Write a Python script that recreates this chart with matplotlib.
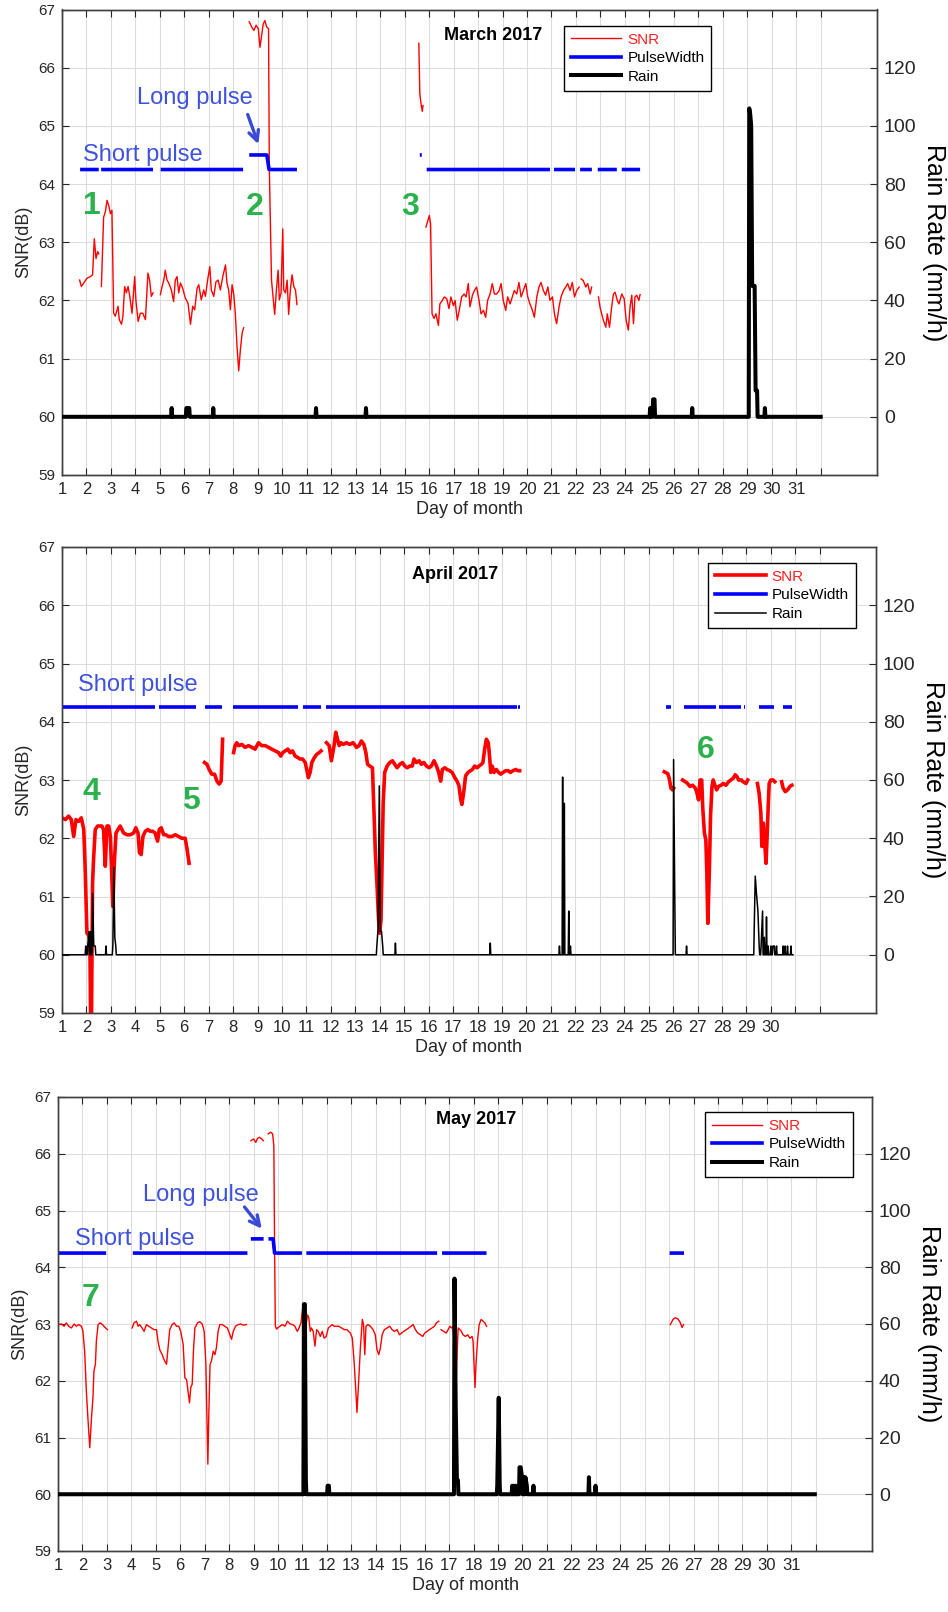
import numpy as np
import matplotlib.pyplot as plt
from matplotlib.lines import Line2D

plt.rcParams['font.family'] = ['Liberation Sans', 'DejaVu Sans']

GAP = (np.nan, np.nan)

# ---------------- March 2017 ----------------
snr_mar = [
    (1.72, 62.35), (1.79, 62.24), (1.89, 62.3), (2.02, 62.38), (2.16, 62.41), (2.25, 62.44),
    (2.32, 63.06), (2.39, 62.72), (2.46, 62.84), (2.5, 62.8), GAP,
    (2.61, 62.24), (2.7, 63.43), (2.77, 63.52), (2.84, 63.72), (2.91, 63.63), (2.98, 63.49),
    (3.04, 63.55), (3.11, 61.78), (3.18, 61.73), (3.29, 61.9), (3.34, 61.67), (3.43, 61.59),
    (3.49, 61.73), (3.56, 62.24), (3.63, 62.13), (3.7, 62.24), (3.77, 62.07), (3.86, 61.78),
    (3.97, 62.41), (4.02, 62.0), (4.11, 61.64), (4.2, 61.78), (4.3, 61.78), (4.41, 61.67),
    (4.51, 62.47), (4.58, 62.35), (4.65, 62.07), (4.72, 62.13), GAP,
    (5.02, 62.1), (5.09, 62.24), (5.16, 62.35), (5.22, 62.52), (5.29, 62.35), (5.36, 62.3),
    (5.47, 62.18), (5.56, 61.98), (5.63, 62.35), (5.7, 62.41), (5.77, 62.13), (5.84, 62.3),
    (5.93, 62.21), (6.04, 62.04), (6.15, 61.95), (6.25, 61.59), (6.34, 61.9), (6.42, 61.84),
    (6.52, 62.21), (6.59, 62.27), (6.69, 62.01), (6.79, 62.18), (6.86, 62.07), (6.95, 62.35),
    (7.04, 62.58), (7.1, 62.18), (7.2, 62.07), (7.29, 62.32), (7.38, 62.35), (7.47, 62.18),
    (7.57, 62.41), (7.68, 62.61), (7.74, 62.3), (7.81, 62.18), (7.88, 61.84), (7.95, 62.27),
    (8.02, 62.1), (8.08, 61.78), (8.15, 61.22), (8.22, 60.79), (8.29, 61.16), (8.36, 61.44),
    (8.42, 61.53), GAP,
    (8.65, 66.79), (8.75, 66.7), (8.84, 66.64), (8.93, 66.73), (9.02, 66.67), (9.09, 66.35),
    (9.16, 66.57), (9.22, 66.75), (9.29, 66.81), (9.36, 66.7), (9.44, 66.67), (9.47, 64.3),
    (9.52, 63.16), (9.56, 62.35), (9.61, 62.13), (9.69, 61.76), (9.76, 62.18), (9.83, 62.52),
    (9.88, 62.01), (9.95, 62.13), (10.02, 63.23), (10.06, 62.18), (10.13, 62.13), (10.2, 62.35),
    (10.26, 61.76), (10.33, 62.18), (10.4, 62.44), (10.47, 62.24), (10.54, 62.18), (10.6, 61.93), GAP,
    (15.58, 66.42), (15.6, 66.0), (15.62, 65.55), (15.65, 65.45), (15.68, 65.35), (15.72, 65.25),
    (15.75, 65.35), GAP,
    (15.87, 63.26), (16.01, 63.46), (16.06, 63.31), (16.12, 61.77), (16.2, 61.69), (16.28, 61.77),
    (16.38, 61.57), (16.44, 61.94), (16.54, 62.0), (16.62, 62.06), (16.72, 62.03), (16.81, 61.86),
    (16.89, 62.06), (16.99, 61.91), (17.06, 62.0), (17.15, 61.66), (17.23, 61.83), (17.33, 62.06),
    (17.43, 62.11), (17.51, 62.06), (17.6, 62.29), (17.67, 61.89), (17.77, 62.09), (17.85, 62.17),
    (17.94, 62.23), (18.04, 62.0), (18.12, 61.77), (18.22, 61.83), (18.31, 61.71), (18.39, 62.0),
    (18.49, 62.11), (18.58, 62.29), (18.67, 62.11), (18.76, 62.11), (18.86, 62.17), (18.94, 62.29),
    (19.03, 62.0), (19.13, 61.83), (19.21, 62.06), (19.31, 61.94), (19.4, 62.06), (19.48, 62.17),
    (19.58, 62.11), (19.67, 62.31), (19.76, 62.06), (19.85, 62.17), (19.95, 62.29), (20.03, 62.06),
    (20.12, 61.94), (20.22, 61.83), (20.3, 61.71), (20.4, 62.06), (20.49, 62.23), (20.57, 62.31),
    (20.67, 62.17), (20.76, 62.09), (20.85, 62.23), (20.94, 62.0), (21.04, 62.06), (21.12, 61.77),
    (21.21, 61.6), (21.31, 61.89), (21.39, 62.06), (21.49, 62.17), (21.58, 62.23), (21.66, 62.29),
    (21.76, 62.17), (21.85, 62.31), (21.94, 62.06), (22.03, 62.17), (22.13, 62.23), GAP,
    (22.21, 62.37), (22.3, 62.34), (22.4, 62.23), (22.48, 62.29), (22.58, 62.11), (22.64, 62.23), GAP,
    (22.92, 62.06), (22.98, 61.89), (23.05, 61.77), (23.12, 61.66), (23.22, 61.54), (23.28, 61.77),
    (23.37, 61.54), (23.46, 61.89), (23.53, 62.11), (23.6, 62.14), (23.69, 62.0), (23.76, 61.94),
    (23.87, 62.11), (23.97, 62.03), (24.05, 61.66), (24.14, 61.49), (24.21, 61.89), (24.28, 62.09),
    (24.35, 61.6), (24.41, 62.06), (24.48, 62.09), (24.57, 62.0), (24.62, 62.1),
]
pulse_mar = [
    (1.74, 64.25), (2.5, 64.25), GAP, (2.6, 64.25), (4.72, 64.25), GAP,
    (5.03, 64.25), (8.4, 64.25), GAP,
    (8.65, 64.5), (9.37, 64.5), (9.46, 64.25), (10.6, 64.25), GAP,
    (15.62, 64.5), (15.7, 64.5), GAP,
    (15.9, 64.25), (20.94, 64.25), GAP, (21.1, 64.25), (21.96, 64.25), GAP,
    (22.17, 64.25), (22.65, 64.25), GAP, (22.89, 64.25), (23.67, 64.25), GAP,
    (23.87, 64.25), (24.62, 64.25),
]
rain_mar = [
    (5.48, 3), (6.08, 3), (6.14, 3), (6.2, 3), (7.18, 3), (11.38, 3), (13.42, 3),
    (25.03, 3), (25.15, 6), (25.21, 6), (26.75, 3),
    (29.08, 106), (29.12, 104), (29.16, 100), (29.2, 45), (29.25, 45), (29.3, 45),
    (29.34, 9), (29.4, 9), (29.72, 3),
]

# ---------------- April 2017 ----------------
snr_apr = [
    (1.0, 62.35), (1.14, 62.32), (1.27, 62.38), (1.38, 62.32), (1.48, 62.03), (1.57, 62.32),
    (1.68, 62.29), (1.79, 62.35), (1.89, 62.15), (1.95, 61.46), (2.02, 60.37), (2.09, 60.34),
    (2.14, 60.25), (2.19, 58.0), (2.25, 61.23), (2.29, 61.63), (2.36, 62.15), (2.46, 62.21),
    (2.54, 62.21), (2.63, 62.21), (2.7, 62.15), (2.77, 61.52), (2.84, 62.21), (2.91, 62.21),
    (2.98, 62.03), (3.04, 61.29), (3.08, 60.83), (3.14, 61.57), (3.21, 62.09), (3.29, 62.15),
    (3.38, 62.21), (3.52, 62.09), (3.66, 62.06), (3.79, 62.06), (3.93, 62.09), (4.02, 62.18),
    (4.11, 62.09), (4.17, 61.75), (4.24, 61.72), (4.31, 62.03), (4.41, 62.12), (4.51, 62.15),
    (4.61, 62.12), (4.71, 62.12), (4.81, 62.09), (4.91, 61.95), (4.98, 62.15), (5.06, 62.18),
    (5.16, 62.06), (5.25, 62.06), (5.36, 62.03), (5.5, 62.03), (5.63, 62.06), (5.77, 62.03),
    (5.9, 62.0), (6.04, 62.0), (6.12, 61.8), (6.2, 61.57), GAP,
    (6.83, 63.3), (6.93, 63.27), (7.02, 63.18), (7.13, 63.1), (7.24, 63.1), (7.34, 62.98),
    (7.43, 62.93), (7.51, 62.98), (7.57, 63.7), GAP,
    (8.02, 63.47), (8.08, 63.59), (8.15, 63.64), (8.22, 63.59), (8.36, 63.61), (8.49, 63.56),
    (8.63, 63.59), (8.77, 63.56), (8.9, 63.53), (9.04, 63.64), (9.17, 63.59), (9.31, 63.59),
    (9.45, 63.56), (9.58, 63.53), (9.72, 63.5), (9.86, 63.47), (9.95, 63.41), (10.03, 63.47),
    (10.13, 63.5), (10.24, 63.53), (10.33, 63.47), (10.43, 63.5), (10.54, 63.41), (10.63, 63.39),
    (10.74, 63.36), (10.84, 63.36), (10.95, 63.3), (11.01, 63.18), (11.08, 63.04), (11.15, 63.13),
    (11.22, 63.3), (11.33, 63.39), (11.42, 63.44), (11.52, 63.47), (11.6, 63.5), GAP,
    (11.82, 63.64), (11.93, 63.59), (12.02, 63.33), (12.13, 63.59), (12.2, 63.82), (12.27, 63.7),
    (12.34, 63.59), (12.41, 63.64), (12.5, 63.61), (12.64, 63.64), (12.77, 63.61), (12.91, 63.64),
    (13.05, 63.56), (13.15, 63.59), (13.25, 63.67), (13.35, 63.61), (13.43, 63.47), (13.5, 63.27),
    (13.59, 63.24), (13.7, 63.21), (13.75, 62.61), (13.82, 61.75), (13.89, 61.17), (13.95, 60.6),
    (14.0, 60.37), (14.05, 60.6), (14.1, 61.75), (14.14, 62.61), (14.2, 63.13), (14.3, 63.24),
    (14.41, 63.3), (14.52, 63.33), (14.61, 63.27), (14.71, 63.21), (14.82, 63.27), (14.93, 63.3),
    (15.02, 63.24), (15.12, 63.21), (15.23, 63.24), (15.33, 63.24), (15.4, 63.36), (15.5, 63.3),
    (15.61, 63.33), (15.7, 63.27), (15.8, 63.3), (15.91, 63.24), (16.02, 63.21), (16.11, 63.24),
    (16.22, 63.33), (16.32, 63.24), (16.41, 63.13), (16.49, 62.98), (16.56, 63.18), (16.66, 63.21),
    (16.75, 63.18), (16.86, 63.16), (16.96, 63.13), (17.07, 63.04), (17.16, 62.98), (17.24, 62.9),
    (17.31, 62.67), (17.36, 62.58), (17.43, 62.78), (17.51, 63.07), (17.61, 63.13), (17.71, 63.16),
    (17.79, 63.18), (17.88, 63.24), (17.98, 63.21), (18.06, 63.24), (18.16, 63.27), (18.22, 63.3),
    (18.29, 63.53), (18.36, 63.7), (18.44, 63.64), (18.5, 63.36), (18.54, 63.13), (18.6, 63.24),
    (18.67, 63.13), (18.77, 63.18), (18.86, 63.13), (18.95, 63.1), (19.04, 63.13), (19.15, 63.16),
    (19.25, 63.16), (19.34, 63.13), (19.45, 63.16), (19.56, 63.18), (19.65, 63.16), (19.72, 63.16), GAP,
    (25.64, 63.14), (25.78, 63.11), (25.84, 63.03), (25.91, 62.86), (25.98, 62.83), (26.02, 62.86), GAP,
    (26.39, 63.0), (26.5, 62.97), (26.59, 62.94), (26.69, 62.89), (26.8, 62.91), (26.91, 62.86),
    (26.98, 62.77), (27.04, 62.66), (27.1, 63.0), (27.17, 63.0), (27.21, 62.54), (27.28, 62.09),
    (27.34, 61.97), (27.38, 61.4), (27.42, 60.54), (27.48, 61.4), (27.53, 62.37), (27.59, 62.89),
    (27.64, 63.0), (27.71, 62.91), (27.78, 62.83), (27.86, 62.89), (27.96, 62.91), (28.05, 62.94),
    (28.16, 62.91), (28.27, 62.97), (28.36, 63.0), (28.46, 63.03), (28.54, 63.09), (28.61, 63.06),
    (28.68, 63.0), (28.77, 63.0), GAP,
    (28.87, 62.97), (28.98, 62.94), (29.05, 63.0), GAP,
    (29.45, 62.94), (29.52, 62.77), (29.59, 62.43), (29.63, 61.86), (29.69, 62.26), (29.74, 61.97),
    (29.8, 61.57), (29.84, 61.97), (29.89, 62.54), (29.93, 62.94), (30.0, 63.0), (30.09, 63.0),
    (30.16, 62.97), GAP,
    (30.44, 62.97), (30.5, 62.86), (30.59, 62.8), (30.68, 62.83), (30.78, 62.89), (30.86, 62.91),
]
pulse_apr = [
    (1.0, 64.25), (4.8, 64.25), GAP, (4.98, 64.25), (6.5, 64.25), GAP,
    (6.84, 64.25), (7.53, 64.25), GAP, (8.0, 64.25), (10.66, 64.25), GAP,
    (10.84, 64.25), (11.61, 64.25), GAP, (11.79, 64.25), (19.6, 64.25), GAP,
    (19.66, 64.25), (19.72, 64.25), GAP, (25.71, 64.25), (25.92, 64.25), GAP,
    (26.46, 64.25), (27.75, 64.25), GAP, (27.86, 64.25), (28.78, 64.25), GAP,
    (28.9, 64.25), (28.95, 64.25), GAP, (29.53, 64.25), (30.14, 64.25), GAP,
    (30.48, 64.25), (30.86, 64.25),
]
rain_apr = [
    (1.97, 3), (2.05, 3), (2.1, 8), (2.17, 8), (2.25, 21), (2.3, 3), (2.36, 3), (2.8, 3),
    (3.08, 3), (3.12, 30), (3.16, 6), (3.2, 3),
    (13.88, 3), (13.93, 9), (13.98, 58), (14.02, 8), (14.07, 8), (14.12, 3), (14.64, 4),
    (18.52, 4), (21.35, 3), (21.48, 61), (21.55, 52), (21.73, 15), (21.8, 3),
    (26.02, 67), (26.07, 18), (26.55, 3),
    (29.32, 10), (29.36, 27), (29.41, 21), (29.47, 15), (29.52, 3), (29.6, 3), (29.66, 15),
    (29.73, 6), (29.82, 13), (29.89, 3), (30.0, 3), (30.08, 3), (30.14, 3), (30.23, 3),
    (30.5, 3), (30.58, 3), (30.68, 3), (30.82, 3),
]

# ---------------- May 2017 ----------------
snr_may = [
    (1.0, 62.99), (1.14, 63.0), (1.25, 62.96), (1.34, 63.02), (1.44, 62.96), (1.55, 62.93),
    (1.66, 63.0), (1.75, 62.96), (1.85, 62.99), (1.96, 62.96), (2.02, 62.87), (2.09, 62.52),
    (2.16, 61.82), (2.23, 61.29), (2.3, 60.82), (2.37, 61.35), (2.43, 61.7), (2.47, 62.17),
    (2.53, 62.29), (2.57, 62.7), (2.64, 62.99), (2.73, 63.02), (2.82, 62.99), (2.88, 62.96),
    (2.95, 62.93), (3.02, 62.9), GAP,
    (4.03, 62.93), (4.11, 63.02), (4.21, 63.05), (4.28, 62.96), (4.34, 62.99), (4.44, 62.93),
    (4.52, 62.87), (4.62, 62.99), (4.71, 62.96), (4.82, 62.93), (4.93, 62.9), (5.03, 62.9),
    (5.09, 62.7), (5.16, 62.55), (5.26, 62.46), (5.34, 62.37), (5.44, 62.29), (5.5, 62.58),
    (5.57, 62.9), (5.67, 62.99), (5.75, 63.02), (5.85, 62.96), (5.94, 62.96), (6.02, 62.87),
    (6.12, 62.64), (6.19, 62.05), (6.26, 62.02), (6.32, 61.82), (6.38, 61.61), (6.43, 61.88),
    (6.49, 61.94), (6.54, 62.52), (6.6, 62.93), (6.71, 63.02), (6.8, 63.04), (6.9, 63.0),
    (6.98, 62.87), (7.05, 62.29), (7.09, 61.41), (7.13, 60.53), (7.17, 61.41), (7.22, 62.29),
    (7.28, 62.35), (7.35, 62.52), (7.42, 62.46), (7.48, 62.58), (7.55, 62.87), (7.62, 62.99),
    (7.72, 62.99), (7.82, 62.96), (7.93, 62.93), (8.03, 62.81), (8.1, 62.73), (8.17, 62.87),
    (8.26, 62.96), (8.37, 62.99), (8.48, 63.0), (8.58, 62.98), (8.71, 62.99), GAP,
    (8.89, 66.23), (9.0, 66.26), (9.09, 66.2), (9.16, 66.27), (9.24, 66.29), (9.34, 66.26),
    (9.4, 66.23), GAP,
    (9.6, 66.35), (9.7, 66.38), (9.78, 66.35), (9.83, 66.14), (9.86, 64.38), (9.89, 62.97),
    (9.94, 62.91), (9.98, 62.93), (10.08, 62.96), (10.17, 62.99), (10.28, 62.96), (10.39, 63.05),
    (10.49, 63.0), (10.6, 62.99), (10.69, 62.96), (10.79, 62.87), (10.86, 62.93), (10.94, 63.02),
    (11.01, 63.28), (11.07, 63.08), (11.16, 63.02), (11.21, 63.16), (11.26, 63.11), (11.32, 62.87),
    (11.37, 62.93), (11.44, 62.87), (11.51, 62.61), (11.58, 62.9), (11.65, 62.87), (11.73, 62.78),
    (11.81, 62.87), (11.89, 62.75), (11.97, 62.78), (12.06, 62.93), (12.14, 62.96), (12.22, 62.99),
    (12.3, 62.96), (12.4, 62.96), (12.49, 62.96), (12.6, 62.93), (12.71, 62.9), (12.82, 62.9),
    (12.96, 62.84), (13.04, 62.75), (13.12, 62.29), (13.2, 61.7), (13.23, 61.44), (13.3, 61.99),
    (13.37, 62.58), (13.45, 63.08), (13.5, 62.99), (13.55, 62.46), (13.6, 62.96), (13.68, 62.99),
    (13.78, 62.96), (13.89, 62.9), (13.98, 62.81), (14.05, 62.55), (14.12, 62.46), (14.19, 62.58),
    (14.26, 62.81), (14.35, 62.9), (14.46, 62.93), (14.57, 62.96), (14.67, 62.9), (14.76, 62.87),
    (14.87, 62.9), (14.97, 62.81), (15.05, 62.84), (15.14, 62.87), (15.25, 62.9), (15.35, 62.93),
    (15.44, 62.96), (15.53, 62.99), (15.62, 62.9), (15.72, 62.84), (15.83, 62.81), (15.92, 62.78),
    (16.0, 62.84), (16.1, 62.87), (16.19, 62.9), (16.3, 62.93), (16.4, 62.96), (16.48, 63.02),
    (16.58, 63.05), GAP,
    (16.67, 62.9), (16.78, 62.87), (16.88, 62.84), (16.96, 62.9), (17.03, 62.96), (17.1, 62.93),
    (17.16, 62.96), (17.22, 62.52), (17.27, 61.7), (17.31, 62.29), (17.37, 62.93), (17.44, 62.9),
    (17.5, 62.87), (17.57, 62.81), (17.67, 62.78), (17.76, 62.81), (17.85, 62.75), (17.94, 62.78),
    (17.98, 62.7), (18.02, 62.29), (18.06, 61.88), (18.1, 62.29), (18.16, 62.7), (18.23, 62.99),
    (18.31, 63.08), (18.39, 63.05), (18.46, 63.02), (18.53, 62.96), GAP,
    (26.05, 62.99), (26.16, 63.08), (26.25, 63.11), (26.36, 63.09), (26.45, 63.03), (26.53, 62.94),
    (26.59, 62.99),
]
pulse_may = [
    (1.0, 64.25), (2.97, 64.25), GAP, (4.06, 64.25), (8.75, 64.25), GAP,
    (8.89, 64.5), (9.41, 64.5), GAP,
    (9.61, 64.5), (9.8, 64.5), (9.86, 64.25), (10.98, 64.25), GAP,
    (11.16, 64.25), (16.51, 64.25), GAP, (16.71, 64.25), (18.53, 64.25), GAP,
    (26.02, 64.25), (26.61, 64.25),
]
rain_may = [
    (11.06, 67), (11.1, 67), (11.14, 5), (12.03, 3), (12.08, 3),
    (17.22, 76), (17.27, 31), (17.32, 5), (17.36, 5),
    (18.97, 3), (19.03, 34), (19.07, 3), (19.58, 3), (19.65, 3), (19.72, 3),
    (19.88, 9.5), (19.93, 9.5), (19.98, 6), (20.05, 6), (20.12, 6), (20.18, 3), (20.45, 3),
    (22.72, 6), (22.99, 3),
]

BLUE_TXT = '#3f52dc'
GREEN = '#2bb24c'
AXC = '#262626'


def rain_series(events, start, end, dt=1 / 24):
    xs, ys = [start], [0.0]
    for i, (d, v) in enumerate(events):
        if i == 0 or d - events[i - 1][0] > 1.5 * dt:
            xs.append(d - dt / 2)
            ys.append(0.0)
        xs.append(d)
        ys.append(v)
        if i == len(events) - 1 or events[i + 1][0] - d > 1.5 * dt:
            xs.append(d + dt / 2)
            ys.append(0.0)
    xs.append(end)
    ys.append(0.0)
    return xs, ys


def draw_panel(fig, rect, p):
    ax = fig.add_axes(rect)
    ax2 = ax.twinx()

    sx, sy = np.array(p['snr'], dtype=float).T
    px, py = np.array(p['pulse'], dtype=float).T
    rx, ry = rain_series(p['rain'], 1.0, p['rain_end'])

    ax.plot(px, py, color='#0000ff', lw=2.6, zorder=3, solid_capstyle='butt')
    ax.plot(sx, sy, color='#ff0000', lw=p['snr_lw'], zorder=2)
    ax2.plot(rx, ry, color='black', lw=p['rain_lw'], zorder=3)

    ax.set_xlim(1, 34.3)
    ax.set_ylim(59, 67)
    ax2.set_ylim(-20, 140)

    ax.set_xticks(range(1, 33))
    ax.set_xticklabels([str(i) if i <= p['n_labels'] else '' for i in range(1, 33)])
    ax.set_yticks(range(59, 68))
    ax2.set_yticks(range(0, 121, 20))

    ax.grid(True, color='#dcdcdc', lw=0.8)
    ax.set_axisbelow(True)
    ax.tick_params(axis='x', direction='in', top=True, length=5, labelsize=12,
                   colors=AXC, pad=5)
    ax.tick_params(axis='y', direction='in', length=5, labelsize=11, colors=AXC, pad=5)
    ax2.tick_params(axis='y', direction='in', length=5, labelsize=14, colors=AXC, pad=5)
    for a in (ax, ax2):
        for s in a.spines.values():
            s.set_color('#404040')
            s.set_linewidth(1.0)

    ax.set_xlabel('Day of month', fontsize=13, color=AXC, labelpad=3)
    ax.set_ylabel('SNR(dB)', fontsize=13, color=AXC, labelpad=4)
    ax2.set_ylabel('Rain Rate (mm/h)', fontsize=18, color='black', rotation=270,
                   va='bottom', labelpad=4)

    tx, ty = p['title_xy']
    ax.text(tx, ty, p['title'], fontsize=13, fontweight='bold', ha='center', va='center')

    for txt, x, y in p['pulse_txt']:
        ax.text(x, y, txt, fontsize=17, color=BLUE_TXT, ha='left', va='baseline', zorder=1.5)
    for txt, x, y in p['numbers']:
        ax.text(x, y, txt, fontsize=23, fontweight='bold', color=GREEN, ha='center',
                va='baseline', zorder=1.5)
    if p['arrow'] is not None:
        (x0, y0), (x1, y1) = p['arrow']
        ax.annotate('', xy=(x1, y1), xytext=(x0, y0),
                    arrowprops=dict(arrowstyle='->', color='#3a4ad6', lw=2.4,
                                    mutation_scale=18))

    handles = [Line2D([], [], color='#ff0000', lw=p['snr_lw']),
               Line2D([], [], color='#0000ff', lw=2.6),
               Line2D([], [], color='black', lw=p['rain_lw'])]
    leg = ax2.legend(handles, ['SNR', 'PulseWidth', 'Rain'], loc='upper left',
                     bbox_to_anchor=p['legend_xy'], borderaxespad=0, fontsize=11,
                     frameon=True, fancybox=False, edgecolor='black', framealpha=1,
                     handlelength=3.3, handletextpad=0.4, borderpad=0.45,
                     labelspacing=0.3)
    leg.get_frame().set_linewidth(1.0)
    leg.get_texts()[0].set_color('#ff2020')
    return ax, ax2


panels = [
    dict(snr=snr_mar, pulse=pulse_mar, rain=rain_mar, rain_end=32.0,
         snr_lw=1.0, rain_lw=2.9, n_labels=31,
         title='March 2017', title_xy=(18.6, 66.56),
         pulse_txt=[('Short pulse', 1.85, 64.4), ('Long pulse', 4.07, 65.37)],
         numbers=[('1', 2.21, 63.49), ('2', 8.89, 63.46), ('3', 15.22, 63.46)],
         arrow=((8.55, 65.24), (9.06, 64.64)),
         legend_xy=(0.616, 0.965)),
    dict(snr=snr_apr, pulse=pulse_apr, rain=rain_apr, rain_end=30.9,
         snr_lw=2.6, rain_lw=1.1, n_labels=30,
         title='April 2017', title_xy=(17.1, 66.52),
         pulse_txt=[('Short pulse', 1.64, 64.52)],
         numbers=[('4', 2.21, 62.66), ('5', 6.29, 62.5), ('6', 27.34, 63.37)],
         arrow=None,
         legend_xy=(0.794, 0.966)),
    dict(snr=snr_may, pulse=pulse_may, rain=rain_may, rain_end=31.96,
         snr_lw=1.0, rain_lw=2.9, n_labels=31,
         title='May 2017', title_xy=(18.1, 66.6),
         pulse_txt=[('Short pulse', 1.7, 64.39), ('Long pulse', 4.49, 65.17)],
         numbers=[('7', 2.31, 63.32)],
         arrow=((8.56, 65.1), (9.41, 64.64)),
         legend_xy=(0.795, 0.967)),
]

rects = [
    [62 / 948, 1 - 475 / 1612, 815 / 948, 465.5 / 1612],
    [62 / 948, 1 - 1013 / 1612, 814 / 948, 466 / 1612],
    [58 / 948, 1 - 1551 / 1612, 814 / 948, 454 / 1612],
]

fig = plt.figure(figsize=(9.48, 16.12), dpi=100)
for rect, p in zip(rects, panels):
    draw_panel(fig, rect, p)

fig.savefig('out.png', dpi=100, facecolor='white')
